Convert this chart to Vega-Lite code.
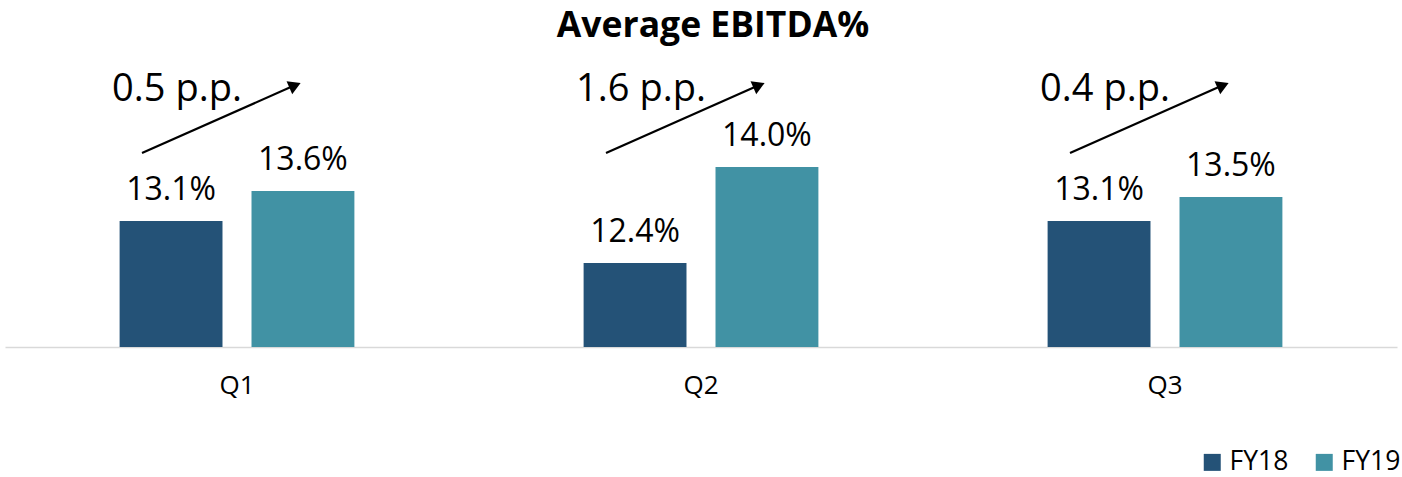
{
  "$schema": "https://vega.github.io/schema/vega-lite/v6.json",
  "width": 1392,
  "height": 300,
  "autosize": "none",
  "padding": {"left": 5, "right": 5, "top": 47, "bottom": 130},
  "background": "white",
  "title": {"text": "Average EBITDA%", "font": "Open Sans", "fontSize": 35.5, "fontWeight": "bold", "color": "#000000", "anchor": "middle", "baseline": "alphabetic", "offset": 9, "dx": 12, "dy": 34},
  "config": {"view": {"stroke": null}, "font": "Open Sans"},
  "datasets": {
    "bars": [
      {"quarter": "Q1", "series": "FY18", "value": 0.131},
      {"quarter": "Q1", "series": "FY19", "value": 0.136},
      {"quarter": "Q2", "series": "FY18", "value": 0.124},
      {"quarter": "Q2", "series": "FY19", "value": 0.140},
      {"quarter": "Q3", "series": "FY18", "value": 0.131},
      {"quarter": "Q3", "series": "FY19", "value": 0.135}
    ],
    "changes": [
      {"quarter": "Q1", "change": "0.5 p.p."},
      {"quarter": "Q2", "change": "1.6 p.p."},
      {"quarter": "Q3", "change": "0.4 p.p."}
    ]
  },
  "layer": [
    {
      "data": {"name": "bars"},
      "mark": {"type": "bar"},
      "encoding": {
        "x": {"field": "quarter", "type": "nominal", "scale": {"paddingInner": 0.494, "paddingOuter": 0.247}, "axis": {"title": null, "ticks": false, "domainColor": "#d9d9d9", "domainWidth": 1.5, "labelFont": "Open Sans", "labelFontSize": 26, "labelColor": "#000000", "labelPadding": 25, "labelAngle": 0}},
        "xOffset": {"field": "series", "type": "nominal", "scale": {"paddingInner": 0.22, "paddingOuter": 0}},
        "y": {"field": "value", "type": "quantitative", "scale": {"domain": [0.11, 0.16], "zero": false, "nice": false}, "axis": null},
        "y2": {"datum": 0.11},
        "color": {"field": "series", "type": "nominal", "scale": {"domain": ["FY18", "FY19"], "range": ["#245277", "#4192a4"]}, "legend": {"title": null, "orient": "none", "legendX": 1194, "legendY": 402, "direction": "horizontal", "symbolType": "square", "symbolSize": 289, "symbolStrokeWidth": 0, "labelFont": "Open Sans", "labelFontSize": 26.5, "labelColor": "#000000", "columnPadding": 22, "labelOffset": 4, "padding": 0}}
      }
    },
    {
      "data": {"name": "bars"},
      "mark": {"type": "text", "font": "Open Sans", "fontSize": 32, "color": "#000000", "baseline": "alphabetic", "dy": -21},
      "encoding": {
        "x": {"field": "quarter", "type": "nominal"},
        "xOffset": {"field": "series", "type": "nominal"},
        "y": {"field": "value", "type": "quantitative"},
        "text": {"field": "value", "type": "quantitative", "format": ".1%"}
      }
    },
    {
      "data": {"name": "changes"},
      "mark": {"type": "rule", "color": "#000000", "strokeWidth": 2.2, "xOffset": -95, "x2Offset": 60},
      "encoding": {
        "x": {"field": "quarter", "type": "nominal"},
        "x2": {"field": "quarter"},
        "y": {"datum": 0.14233},
        "y2": {"datum": 0.15378}
      }
    },
    {
      "data": {"name": "changes"},
      "mark": {"type": "point", "shape": "triangle-right", "filled": true, "color": "#000000", "opacity": 1, "size": 200, "angle": 336.4, "xOffset": 58},
      "encoding": {
        "x": {"field": "quarter", "type": "nominal"},
        "y": {"datum": 0.1536}
      }
    },
    {
      "data": {"name": "changes"},
      "mark": {"type": "text", "font": "Open Sans", "fontSize": 38, "color": "#000000", "baseline": "middle", "align": "center", "xOffset": -60},
      "encoding": {
        "x": {"field": "quarter", "type": "nominal"},
        "y": {"datum": 0.1528},
        "text": {"field": "change"}
      }
    }
  ]
}
